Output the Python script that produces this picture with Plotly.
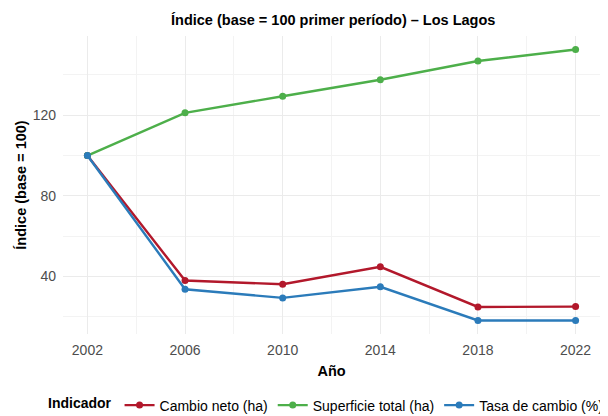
import plotly.graph_objects as go

years = [2002, 2006, 2010, 2014, 2018, 2022]
cambio_neto = [100, 38.0, 36.2, 44.8, 24.9, 25.1]
superficie_total = [100, 121.2, 129.4, 137.6, 146.9, 152.6]
tasa_cambio = [100, 33.7, 29.4, 34.9, 18.2, 18.2]

series_names = ["Cambio neto (ha)", "Superficie total (ha)", "Tasa de cambio (%)"]
series_vals = [cambio_neto, superficie_total, tasa_cambio]
colors = ["#B2182B", "#4DAF4A", "#2B7BBA"]

x_ticks = [2002, 2006, 2010, 2014, 2018, 2022]
y_ticks = [40, 80, 120]

fig = go.Figure()
for name, vals, c in zip(series_names, series_vals, colors):
    fig.add_trace(go.Scatter(x=years, y=vals, name=name, mode="lines+markers",
                             line=dict(color=c, width=2.4),
                             marker=dict(color=c, size=7)))

font = "Liberation Sans, Arial, sans-serif"
# page body has an 8px default margin; figure offsets compensate
fig.update_layout(
    width=600, height=416,
    margin=dict(l=55, r=3, t=28, b=90),
    plot_bgcolor="white", paper_bgcolor="white",
    font=dict(family=font, color="#000000"),
    title=dict(text="<b>Índice (base = 100 primer período) – Los Lagos</b>",
               x=0.542, xanchor="center", y=1 - 12 / 416, yanchor="middle",
               font=dict(size=14.5, color="#000000")),
    xaxis=dict(range=[2001, 2023], tickvals=x_ticks, ticktext=[str(v) for v in x_ticks],
               showgrid=True, gridcolor="#EBEBEB", gridwidth=1, zeroline=False,
               showline=False, ticks="", tickfont=dict(size=14, color="#4D4D4D"),
               automargin=False, ticklabelstandoff=6,
               title=dict(text="<b>Año</b>", font=dict(size=14.5, color="#000000"), standoff=8),
               minor=dict(tickvals=[2004, 2008, 2012, 2016, 2020], showgrid=True,
                          gridcolor="#F3F3F3", gridwidth=0.6)),
    yaxis=dict(range=[11.5, 159.3], tickvals=y_ticks, ticktext=[str(v) for v in y_ticks],
               showgrid=True, gridcolor="#EBEBEB", gridwidth=1, zeroline=False,
               showline=False, ticks="", tickfont=dict(size=14, color="#4D4D4D"),
               automargin=False, ticklabelstandoff=6,
               title=dict(text="<b>Índice (base = 100)</b>", font=dict(size=14.5, color="#000000"), standoff=2),
               minor=dict(tickvals=[20, 60, 100, 140], showgrid=True,
                          gridcolor="#F3F3F3", gridwidth=0.6)),
    legend=dict(orientation="h", x=0.51, xanchor="center", y=-0.24, yanchor="middle",
                title=dict(text="<b>Indicador</b>", side="left", font=dict(size=14)),
                font=dict(size=14, color="#000000"), itemwidth=30, tracegroupgap=0,
                bgcolor="rgba(0,0,0,0)"),
)

fig.write_html("out.html")
